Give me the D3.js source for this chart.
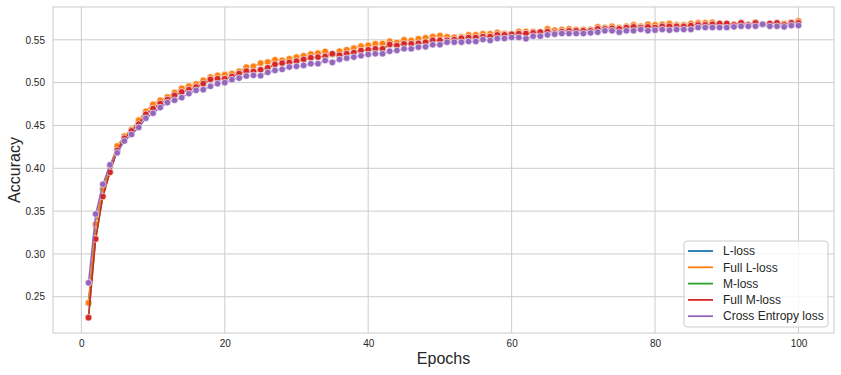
<!DOCTYPE html>
<html>
<head>
<meta charset="utf-8">
<script src="https://cdn.jsdelivr.net/npm/d3@7"></script>
<style>
  body { margin: 0; background: #fff; }
  text { font-family: "Liberation Sans", Arial, sans-serif; }
</style>
</head>
<body>
<div id="chart"></div>
<script>
const seriesNames = ["L-loss", "Full L-loss", "M-loss", "Full M-loss", "Cross Entropy loss"];
const colors = ["#1f77b4", "#ff7f0e", "#2ca02c", "#d62728", "#9467bd"];
const xTicks = [0, 20, 40, 60, 80, 100];
const yTicks = [0.25, 0.30, 0.35, 0.40, 0.45, 0.50, 0.55];

const lLoss = [0.2425, 0.334, 0.3755, 0.4015, 0.4255, 0.437, 0.4448, 0.4555, 0.466, 0.4742,
  0.479, 0.483, 0.488, 0.493, 0.4955, 0.498, 0.5022, 0.506, 0.508, 0.509,
  0.5101, 0.5128, 0.5176, 0.5186, 0.5222, 0.5236, 0.5262, 0.5257, 0.5275, 0.5294,
  0.531, 0.5328, 0.534, 0.536, 0.5326, 0.5362, 0.538, 0.5398, 0.5421, 0.5433,
  0.5449, 0.5452, 0.548, 0.5466, 0.5496, 0.5488, 0.5508, 0.552, 0.5533, 0.5545,
  0.5531, 0.5527, 0.5531, 0.5553, 0.5555, 0.5566, 0.5566, 0.5581, 0.557, 0.557,
  0.5593, 0.5594, 0.5593, 0.5587, 0.5624, 0.5608, 0.5617, 0.5624, 0.5617, 0.5616,
  0.5617, 0.5647, 0.564, 0.5654, 0.564, 0.5654, 0.567, 0.5655, 0.5678, 0.567,
  0.5679, 0.5686, 0.5671, 0.567, 0.5686, 0.5694, 0.5695, 0.5701, 0.5679, 0.5678,
  0.5679, 0.5694, 0.5671, 0.5701, 0.5679, 0.5678, 0.5679, 0.5686, 0.5701, 0.5717];

const fullLLoss = [0.243, 0.335, 0.376, 0.402, 0.426, 0.4375, 0.4453, 0.4562, 0.4666, 0.4748,
  0.4794, 0.4833, 0.4884, 0.4934, 0.496, 0.4984, 0.5027, 0.5065, 0.5085, 0.5093,
  0.5105, 0.5131, 0.5181, 0.519, 0.5228, 0.524, 0.5267, 0.526, 0.5279, 0.5298,
  0.5314, 0.5333, 0.5344, 0.5364, 0.5329, 0.5367, 0.5384, 0.5403, 0.5426, 0.5437,
  0.5453, 0.5457, 0.5484, 0.5469, 0.55, 0.5492, 0.5512, 0.5523, 0.5538, 0.555,
  0.5535, 0.553, 0.5535, 0.5558, 0.5558, 0.557, 0.557, 0.5585, 0.5573, 0.5573,
  0.5597, 0.5597, 0.5597, 0.559, 0.5628, 0.5612, 0.562, 0.5628, 0.562, 0.562,
  0.562, 0.5651, 0.5643, 0.5658, 0.5643, 0.5658, 0.5674, 0.5658, 0.5682, 0.5674,
  0.5682, 0.569, 0.5674, 0.5674, 0.569, 0.5698, 0.5698, 0.5705, 0.5682, 0.5682,
  0.5682, 0.5698, 0.5674, 0.5705, 0.5682, 0.5682, 0.5682, 0.569, 0.5705, 0.5721];

const mLoss = [0.2259, 0.318, 0.3675, 0.3958, 0.4205, 0.4345, 0.4432, 0.451, 0.4626, 0.4692,
  0.475, 0.4798, 0.4848, 0.4887, 0.4914, 0.4945, 0.4984, 0.5033, 0.5042, 0.5043,
  0.5069, 0.51, 0.513, 0.5127, 0.5147, 0.517, 0.5208, 0.5224, 0.5232, 0.5247,
  0.5266, 0.5287, 0.5294, 0.5302, 0.5332, 0.5318, 0.5333, 0.5348, 0.5372, 0.538,
  0.5391, 0.5392, 0.544, 0.543, 0.5449, 0.5449, 0.5456, 0.5468, 0.549, 0.5491,
  0.5491, 0.5499, 0.5515, 0.5523, 0.5523, 0.5534, 0.5535, 0.5554, 0.5555, 0.556,
  0.5569, 0.557, 0.5577, 0.5586, 0.5593, 0.5578, 0.5593, 0.5601, 0.5601, 0.5602,
  0.5601, 0.5624, 0.5625, 0.5631, 0.5624, 0.5639, 0.5647, 0.564, 0.5647, 0.5636,
  0.5654, 0.5652, 0.5654, 0.5655, 0.5662, 0.567, 0.567, 0.5678, 0.5686, 0.5686,
  0.567, 0.5694, 0.567, 0.5694, 0.5678, 0.5686, 0.5694, 0.567, 0.5694, 0.5694];

const fullMLoss = [0.2256, 0.3174, 0.367, 0.3953, 0.421, 0.435, 0.4437, 0.4515, 0.4631, 0.4697,
  0.4755, 0.4802, 0.4852, 0.4891, 0.4918, 0.4949, 0.4988, 0.5038, 0.5046, 0.5046,
  0.5073, 0.5105, 0.5135, 0.5131, 0.5151, 0.5174, 0.5213, 0.5228, 0.5236, 0.5251,
  0.5271, 0.5291, 0.5298, 0.5306, 0.5337, 0.5321, 0.5337, 0.5352, 0.5376, 0.5384,
  0.5395, 0.5395, 0.5445, 0.5434, 0.5453, 0.5453, 0.546, 0.5472, 0.5495, 0.5495,
  0.5495, 0.5503, 0.5519, 0.5527, 0.5527, 0.5538, 0.5538, 0.5558, 0.5558, 0.5565,
  0.5573, 0.5573, 0.5581, 0.559, 0.5597, 0.5581, 0.5597, 0.5605, 0.5605, 0.5605,
  0.5605, 0.5628, 0.5628, 0.5635, 0.5628, 0.5643, 0.5651, 0.5643, 0.5651, 0.5643,
  0.5658, 0.5658, 0.5658, 0.5658, 0.5666, 0.5674, 0.5674, 0.5682, 0.569, 0.569,
  0.5674, 0.5698, 0.5674, 0.5698, 0.5682, 0.569, 0.5698, 0.5674, 0.5698, 0.5698];

const crossEntropy = [0.2663, 0.3465, 0.3814, 0.404, 0.418, 0.4318, 0.4395, 0.4477, 0.4585, 0.4643,
  0.4709, 0.4767, 0.4794, 0.4825, 0.4872, 0.491, 0.4918, 0.4957, 0.4988, 0.5,
  0.5035, 0.5053, 0.5077, 0.5085, 0.5081, 0.512, 0.5143, 0.5155, 0.5182, 0.519,
  0.5201, 0.5221, 0.5221, 0.5259, 0.5236, 0.5271, 0.5286, 0.5298, 0.5314, 0.5329,
  0.5337, 0.5337, 0.5367, 0.5376, 0.5395, 0.5395, 0.5414, 0.5418, 0.5442, 0.5442,
  0.5472, 0.5472, 0.5472, 0.548, 0.548, 0.5503, 0.5492, 0.5515, 0.5515, 0.5527,
  0.5527, 0.5512, 0.5542, 0.5542, 0.5558, 0.5565, 0.5573, 0.5573, 0.5573, 0.5573,
  0.5581, 0.5589, 0.5605, 0.5605, 0.5589, 0.5605, 0.5605, 0.562, 0.5605, 0.5612,
  0.562, 0.5612, 0.562, 0.562, 0.562, 0.5643, 0.5643, 0.5643, 0.5643, 0.5643,
  0.5651, 0.5658, 0.5658, 0.5658, 0.5682, 0.5658, 0.5658, 0.5651, 0.5666, 0.5666];

const allSeries = [lLoss, fullLLoss, mLoss, fullMLoss, crossEntropy];

const width = 841, height = 375;
const margin = { top: 7, right: 7, bottom: 42, left: 53 };

const svg = d3.select("#chart").append("svg")
  .attr("width", width)
  .attr("height", height);

const x = d3.scaleLinear()
  .domain([-3.95, 104.95])
  .range([margin.left, width - margin.right]);

const y = d3.scaleLinear()
  .domain([0.2077, 0.5883])
  .range([height - margin.bottom, margin.top]);

// grid
svg.append("g")
  .selectAll("line.vg")
  .data(xTicks)
  .join("line")
  .attr("x1", d => x(d)).attr("x2", d => x(d))
  .attr("y1", margin.top).attr("y2", height - margin.bottom)
  .attr("stroke", "#cccccc").attr("stroke-width", 1);

svg.append("g")
  .selectAll("line.hg")
  .data(yTicks)
  .join("line")
  .attr("x1", margin.left).attr("x2", width - margin.right)
  .attr("y1", d => y(d)).attr("y2", d => y(d))
  .attr("stroke", "#cccccc").attr("stroke-width", 1);

// frame
svg.append("rect")
  .attr("x", margin.left).attr("y", margin.top)
  .attr("width", width - margin.left - margin.right)
  .attr("height", height - margin.top - margin.bottom)
  .attr("fill", "none").attr("stroke", "#cccccc").attr("stroke-width", 1);

// axes
const xAxis = svg.append("g")
  .attr("transform", `translate(0,${height - margin.bottom})`)
  .call(d3.axisBottom(x).tickValues(xTicks).tickSize(0).tickPadding(7));
const yAxis = svg.append("g")
  .attr("transform", `translate(${margin.left},0)`)
  .call(d3.axisLeft(y).tickValues(yTicks).tickFormat(d3.format(".2f")).tickSize(0).tickPadding(8));

[xAxis, yAxis].forEach(g => {
  g.select(".domain").remove();
  g.selectAll("text")
    .attr("fill", "#262626")
    .style("font-size", "10px")
    .style("font-family", "'Liberation Sans', Arial, sans-serif");
});

svg.append("text")
  .attr("x", (margin.left + width - margin.right) / 2)
  .attr("y", 364)
  .attr("text-anchor", "middle")
  .attr("fill", "#262626")
  .style("font-size", "16px")
  .text("Epochs");

svg.append("text")
  .attr("transform", `translate(20,${(margin.top + height - margin.bottom) / 2}) rotate(-90)`)
  .attr("text-anchor", "middle")
  .attr("fill", "#262626")
  .style("font-size", "16px")
  .text("Accuracy");

// lines and markers
const line = d3.line()
  .x((d, i) => x(i + 1))
  .y(d => y(d));

allSeries.forEach((s, k) => {
  const g = svg.append("g");
  g.append("path")
    .datum(s)
    .attr("d", line)
    .attr("fill", "none")
    .attr("stroke", colors[k])
    .attr("stroke-width", 1.5);
  g.selectAll("circle")
    .data(s)
    .join("circle")
    .attr("cx", (d, i) => x(i + 1))
    .attr("cy", d => y(d))
    .attr("r", 3.3)
    .attr("fill", colors[k])
    .attr("stroke", "#ffffff")
    .attr("stroke-width", 0.6);
});

// legend
const legend = svg.append("g").attr("transform", "translate(684,241)");
legend.append("rect")
  .attr("width", 144).attr("height", 86)
  .attr("rx", 3)
  .attr("fill", "#ffffff").attr("fill-opacity", 0.8)
  .attr("stroke", "#cccccc").attr("stroke-width", 1);

const item = legend.selectAll("g.item")
  .data(seriesNames)
  .join("g")
  .attr("transform", (d, i) => `translate(0,${10 + i * 16.3})`);
item.append("line")
  .attr("x1", 4).attr("x2", 29)
  .attr("stroke", (d, i) => colors[i])
  .attr("stroke-width", 1.8);
item.append("text")
  .attr("x", 39)
  .attr("dy", "0.35em")
  .attr("fill", "#262626")
  .style("font-size", "12px")
  .text(d => d);
</script>
</body>
</html>
